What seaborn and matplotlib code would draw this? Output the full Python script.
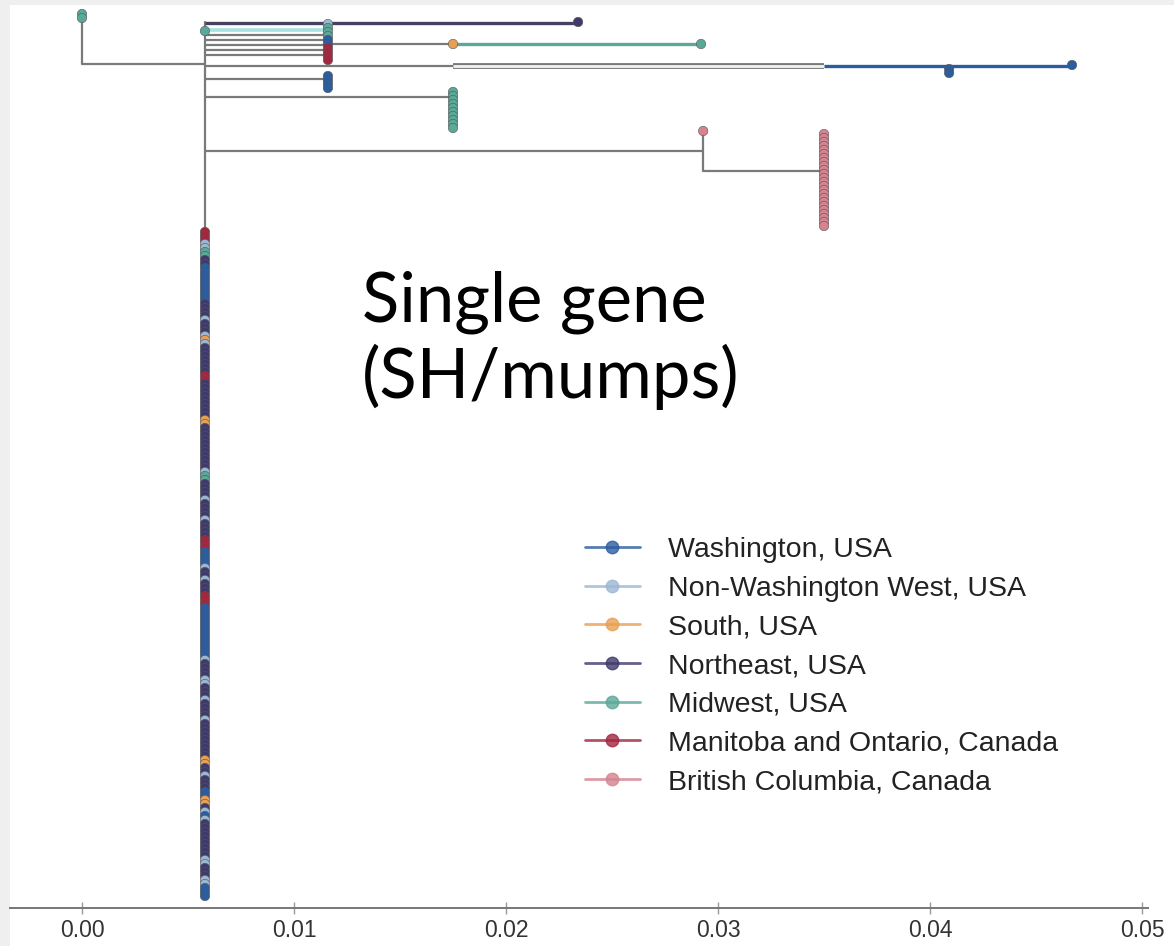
import matplotlib
matplotlib.use("Agg")
import matplotlib.pyplot as plt
from matplotlib.lines import Line2D
from matplotlib.patches import Rectangle
import seaborn as sns
import pandas as pd

# ---------------- data ----------------
regions = ["Washington, USA", "Non-Washington West, USA", "South, USA",
           "Northeast, USA", "Midwest, USA", "Manitoba and Ontario, Canada",
           "British Columbia, Canada"]
codes = ["W", "N", "S", "E", "M", "C", "B"]
region_colors = ["#2b5d9f", "#9db7d3", "#e9a052", "#3e3a6b", "#5aa898", "#a3263f", "#d4838f"]

# tip clades: divergence (x), first tip row, runs of (region code, count)
clade_x = [0.0, 0.0058, 0.0116, 0.0234, 0.0175, 0.0292, 0.0409, 0.0467, 0.0116, 0.0175, 0.0293, 0.0350, 0.0058]
clade_y0 = [14, 31, 24, 22, 44, 44, 69, 65, 76, 92, 131, 134, 232]
clade_runs = [
    [("M", 2)],
    [("M", 1)],
    [("N", 1), ("M", 3), ("W", 2), ("C", 4)],
    [("E", 1)],
    [("S", 1)],
    [("M", 1)],
    [("W", 2)],
    [("W", 1)],
    [("W", 4)],
    [("M", 10)],
    [("B", 1)],
    [("B", 24)],
    [("C", 3), ("N", 2), ("M", 2), ("E", 2), ("W", 9), ("E", 4), ("N", 1), ("E", 3),
     ("N", 1), ("S", 1), ("N", 1), ("E", 7), ("C", 2), ("E", 9), ("S", 2), ("E", 11),
     ("N", 1), ("M", 2), ("E", 4), ("N", 1), ("E", 4), ("N", 1), ("E", 4), ("C", 3),
     ("W", 4), ("N", 1), ("E", 2), ("N", 1), ("E", 3), ("C", 3), ("W", 13), ("N", 1),
     ("E", 4), ("N", 2), ("E", 3), ("N", 1), ("E", 4), ("N", 1), ("E", 9), ("S", 2),
     ("E", 2), ("N", 1), ("E", 3), ("W", 2), ("S", 2), ("E", 1), ("N", 1), ("W", 1),
     ("N", 1), ("E", 9), ("N", 2), ("E", 3), ("N", 2), ("W", 3)],
]

# horizontal branches: row, start, end, region code ("G" = internal grey)
branch_y = [64, 23, 30, 35, 40, 45, 50, 55, 44, 44, 66, 66, 66, 79, 97, 151, 171]
branch_x0 = [0.0, 0.0058, 0.0058, 0.0058, 0.0058, 0.0058, 0.0058, 0.0058, 0.0116, 0.0175,
             0.0058, 0.0175, 0.0350, 0.0058, 0.0058, 0.0058, 0.0293]
branch_x1 = [0.0058, 0.0234, 0.0116, 0.0116, 0.0116, 0.0116, 0.0116, 0.0116, 0.0175, 0.0292,
             0.0175, 0.0350, 0.0467, 0.0116, 0.0175, 0.0293, 0.0350]
branch_code = ["G", "E", "M", "G", "G", "G", "G", "G", "G", "M",
               "G", "N", "W", "G", "G", "G", "G"]

# vertical connectors: x, top row, bottom row
vert_x = [0.0, 0.0058, 0.0293]
vert_top = [17, 22, 131]
vert_bottom = [64, 897, 171]

xticks = [0.00, 0.01, 0.02, 0.03, 0.04, 0.05]
title_lines = ["Single gene", "(SH/mumps)"]

# ---------------- build tables ----------------
code2region = dict(zip(codes, regions))
palette = dict(zip(regions, region_colors))
code2color = dict(zip(codes, region_colors))
code2color["G"] = "#7a7a7a"
code2color["E"] = "#45425f"

tips = []
for cx, cy, runs in zip(clade_x, clade_y0, clade_runs):
    k = 0
    for code, n in runs:
        for _ in range(n):
            tips.append({"x": cx, "y": cy + 4 * k, "region": code2region[code]})
            k += 1
tips = pd.DataFrame(tips)

# ---------------- plot ----------------
sns.set_style("white")
plt.rcParams["font.family"] = ["Liberation Sans", "DejaVu Sans"]

W, H = 1174, 946
fig = plt.figure(figsize=(W / 100, H / 100), dpi=100)
fig.patch.set_facecolor("#efefef")
fig.patches.append(Rectangle((10 / W, 0), 1 - 10 / W, (H - 5) / H, transform=fig.transFigure,
                             facecolor="white", edgecolor="none", zorder=-1))
ax = fig.add_axes([10 / W, (H - 908) / H, 1 - 10 / W, (908 - 5) / H])
ax.set_facecolor("white")

# branches
for y, x0, x1, c in zip(branch_y, branch_x0, branch_x1, branch_code):
    if c == "G":
        ax.plot([x0, x1], [y, y], color=code2color["G"], lw=1.6, solid_capstyle="butt", zorder=1)
    elif c == "N":
        ax.plot([x0, x1], [y, y], color=code2color["G"], lw=4.2, solid_capstyle="butt", zorder=1)
        ax.plot([x0, x1], [y, y], color="#f4f4f4", lw=2.0, solid_capstyle="butt", zorder=1.1)
    elif c == "M" and x0 < 0.01:
        ax.plot([x0, x1], [y, y], color="#a9e2e2", lw=2.6, solid_capstyle="butt", zorder=1)
    else:
        ax.plot([x0, x1], [y, y], color=code2color[c], lw=2.4, solid_capstyle="butt", zorder=1.2)
for x, y0, y1 in zip(vert_x, vert_top, vert_bottom):
    ax.plot([x, x], [y0, y1], color=code2color["G"], lw=1.6, zorder=1)

sns.scatterplot(data=tips, x="x", y="y", hue="region", palette=palette, ax=ax,
                s=46, edgecolor="#555555", linewidth=0.4, legend=False, zorder=3)

ax.set_xlim((10 - 82) / 21200, (W - 82) / 21200)
ax.set_ylim(908, 5)
ax.set_xticks(xticks)
ax.set_xticklabels([f"{t:.2f}" for t in xticks])
ax.set_yticks([])
ax.set_xlabel("")
ax.set_ylabel("")
for s in ["top", "left", "right"]:
    ax.spines[s].set_visible(False)
ax.spines["bottom"].set_color("#777777")
ax.spines["bottom"].set_linewidth(1.4)
ax.spines["bottom"].set_bounds((10 - 82) / 21200, 0.0503)
ax.tick_params(axis="x", direction="inout", length=8, width=1.0, color="#999999",
               labelsize=16.5, labelcolor="#333333", pad=4, bottom=True)

# title text
ax.text((362 - 10) / 1164, (908 - 322) / 903, title_lines[0], transform=ax.transAxes,
        fontsize=49.5, family="Lato", va="baseline", ha="left", color="black")
ax.text((362 - 10) / 1164, (908 - 398) / 903, title_lines[1], transform=ax.transAxes,
        fontsize=49.5, family="Lato", va="baseline", ha="left", color="black")

# legend
handles = [Line2D([], [], color=c, alpha=0.8, lw=2.0, marker="o", markersize=9,
                  markerfacecolor=c, markeredgecolor=c) for c in region_colors]
leg = ax.legend(handles, regions, loc="upper left",
                bbox_to_anchor=((585 - 10) / 1164, (908 - 537) / 903),
                frameon=False, fontsize=20.5, handlelength=1.93, handletextpad=0.98,
                labelspacing=0.445, borderpad=0, borderaxespad=0)
for t in leg.get_texts():
    t.set_color("#222222")

fig.savefig("out.png", dpi=100, facecolor=fig.get_facecolor())
